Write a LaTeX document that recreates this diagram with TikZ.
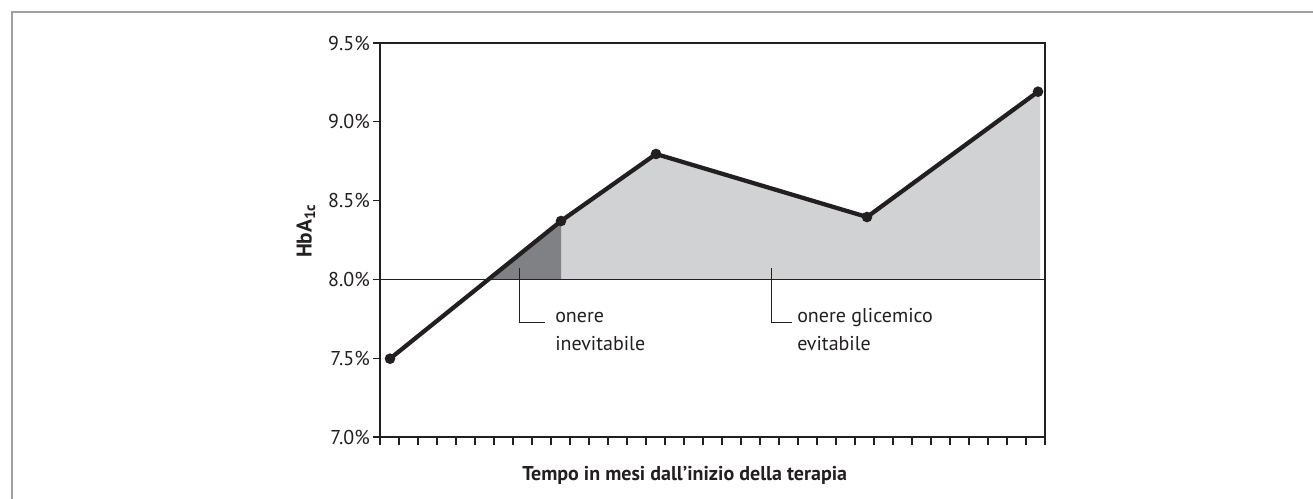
\documentclass[tikz,border=0pt]{standalone}
\usepackage{fontspec}
\setmainfont{PT Sans}
\definecolor{ink}{RGB}{35,31,32}
\definecolor{lightfill}{RGB}{209,210,212}
\definecolor{darkfill}{RGB}{128,129,133}
\definecolor{framegray}{RGB}{160,160,160}
\begin{document}
\begin{tikzpicture}[x=0.75pt,y=-0.75pt,
  axisline/.style={line width=1.1pt, ink},
  tickline/.style={line width=0.9pt, ink},
  curveline/.style={line width=3.2pt, ink, line join=round},
  dot/.style={circle, fill=ink, inner sep=0pt, minimum size=8pt},
  leader/.style={line width=0.7pt, ink},
  lbl/.style={font=\fontsize{15}{21}\selectfont, text=ink},
  ticklbl/.style={font=\fontsize{15}{18}\selectfont, text=ink, anchor=east, inner sep=0pt}
]
\useasboundingbox (0,0) rectangle (1313,499);
% outer frame
\draw[framegray, line width=1.2pt] (12,499) -- (12,12) -- (1313,12);

% fills
\fill[lightfill] (561,279.3) -- (561,221) -- (656,154) -- (867,217) -- (1038,91.7) -- (1040,93) -- (1040,279.3) -- cycle;
\fill[darkfill] (488.8,279.3) -- (561,221) -- (561,279.3) -- cycle;

% frame of plot
\draw[axisline] (373,43) -- (1045,43) -- (1045,445);
\draw[axisline] (380,43) -- (380,445);
\draw[axisline] (373,437) -- (1045,437);
\draw[axisline] (373,279.3) -- (1045,279.3);
% y ticks
\foreach \yy in {121.8,200.6,358.2} \draw[tickline] (373,\yy) -- (380,\yy);
% x ticks
\foreach \k in {1,...,34} \draw[tickline] ({380+19*\k},437) -- ({380+19*\k},445);

% y tick labels
\node[ticklbl] (l95) at (370,43) {9.5\%};
\node[ticklbl] (l90) at (370,121.8) {9.0\%};
\node[ticklbl] (l85) at (370,200.6) {8.5\%};
\node[ticklbl] (l80) at (370,279.3) {8.0\%};
\node[ticklbl] (l75) at (370,358.2) {7.5\%};
\node[ticklbl] (l70) at (370,437) {7.0\%};

% data points
\node[dot] (p1) at (390,358.7) {};
\node[dot] (p2) at (561,221) {};
\node[dot] (p3) at (656,154) {};
\node[dot] (p4) at (867,217) {};
\node[dot] (p5) at (1038,91.7) {};
\draw[curveline] (p1.center) -- (p2.center) -- (p3.center) -- (p4.center) -- (p5.center);

% annotations (base = baseline of the last line)
\coordinate (a1) at (519,268);
\coordinate (a2) at (771,268);
\node[lbl, anchor=base west, align=left, inner sep=0pt] (t1) at (555,350) {onere\\inevitabile};
\node[lbl, anchor=base west, align=left, inner sep=0pt] (t2) at (797,350) {onere glicemico\\evitabile};
\draw[leader] (a1) |- ([xshift=-7.5pt,yshift=21pt]t1.base west);
\draw[leader] (a2) |- ([xshift=-4pt,yshift=21pt]t2.base west);

% axis titles
\node[font=\bfseries\fontsize{15}{18}\selectfont, text=ink, anchor=base west, inner sep=0pt] (xt) at (522,480) {Tempo in mesi dall’inizio della terapia};
\node[font=\bfseries\fontsize{16}{20}\selectfont, text=ink, rotate=90, inner sep=0pt] (yt) at (306,231) {HbA\textsubscript{1c}};
\end{tikzpicture}
\end{document}
